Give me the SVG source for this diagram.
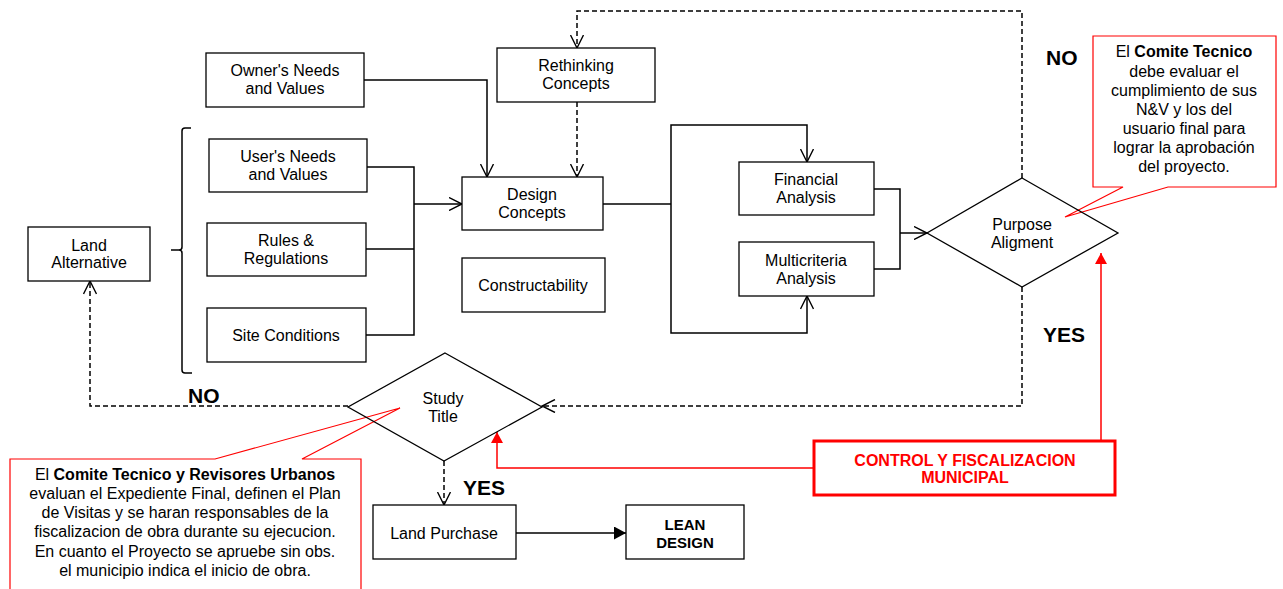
<svg xmlns="http://www.w3.org/2000/svg" width="1283" height="589" viewBox="0 0 1283 589">
  <defs>
    <marker id="open" markerUnits="userSpaceOnUse" viewBox="0 0 15 14" markerWidth="15" markerHeight="14" refX="13.5" refY="7" orient="auto">
      <path d="M0.5,0.5 L13.5,7 L0.5,13.5" fill="none" stroke="#000" stroke-width="1.4"/>
    </marker>
    <marker id="solid" markerUnits="userSpaceOnUse" viewBox="0 0 13 13" markerWidth="13" markerHeight="13" refX="12" refY="6.5" orient="auto">
      <path d="M0,0 L12,6.5 L0,13 Z" fill="#000"/>
    </marker>
    <marker id="redhead" markerUnits="userSpaceOnUse" viewBox="0 0 12 12" markerWidth="12" markerHeight="12" refX="11" refY="6" orient="auto">
      <path d="M0,0 L11,6 L0,12 Z" fill="#ff0000"/>
    </marker>
  </defs>
  <style>
    .box{fill:#fff;stroke:#000;stroke-width:1.3}
    .dia{fill:none;stroke:#000;stroke-width:1.3}
    .ln{fill:none;stroke:#000;stroke-width:1.5}
    .dash{stroke-dasharray:5 3}
    .rl{fill:none;stroke:#ff0000;stroke-width:1.5}
    .call{fill:#fff;stroke:#ff0000;stroke-width:1.2}
    .t{font-family:"Liberation Sans",Arial,sans-serif;font-size:16px;text-anchor:middle;fill:#000}
    .b{font-weight:bold}
    .lbl{font-family:"Liberation Sans",Arial,sans-serif;font-size:21px;font-weight:bold;fill:#000}
    .red{fill:#ff0000;font-weight:bold}
  </style>

  <rect width="1283" height="589" fill="#fff"/>

  <!-- connectors -->
  <g id="connectors">
    <!-- inputs into Design Concepts -->
    <path class="ln" d="M364,80 H487 V177" marker-end="url(#open)"/>
    <path class="ln" d="M367,167 H414 V335 H366"/>
    <path class="ln" d="M366,249 H414"/>
    <path class="ln" d="M414,204 H462" marker-end="url(#open)"/>
    <!-- Design Concepts to analyses -->
    <path class="ln" d="M603,204 H671"/>
    <path class="ln" d="M671,204 V125 H807 V162" marker-end="url(#open)"/>
    <path class="ln" d="M671,204 V333 H807 V296" marker-end="url(#open)"/>
    <!-- analyses to Purpose Aligment -->
    <path class="ln" d="M874,189 H900 V269 H874"/>
    <path class="ln" d="M900,233 H927" marker-end="url(#open)"/>
    <!-- feedback loops (dashed) -->
    <path class="ln dash" d="M1022,178 V11 H577 V48" marker-end="url(#open)"/>
    <path class="ln dash" d="M577,102 V177" marker-end="url(#open)"/>
    <path class="ln dash" d="M1022,287 V406 H542" marker-end="url(#open)"/>
    <path class="ln dash" d="M348,406 H90 V281" marker-end="url(#open)"/>
    <path class="ln dash" d="M444,461 V505" marker-end="url(#open)"/>
    <!-- Land Purchase to LEAN DESIGN -->
    <path class="ln" d="M516,533 H626" marker-end="url(#solid)"/>
    <!-- municipal control -->
    <path class="rl" d="M1101,440 V253" marker-end="url(#redhead)"/>
    <path class="rl" d="M813,468 H497 V432" marker-end="url(#redhead)"/>
    <!-- bracket grouping the site inputs -->
    <path class="ln" d="M191,128 H185 Q182,128 182,131 V247 Q182,250 179,250 H171 M179,250 Q182,250 182,253 V370 Q182,373 185,373 H192"/>
  </g>

  <!-- nodes -->
  <g id="owner-needs">
    <rect class="box" x="206" y="53" width="158" height="54"/>
    <text class="t" x="285" y="76">Owner's Needs</text>
    <text class="t" x="285" y="94">and Values</text>
  </g>
  <g id="user-needs">
    <rect class="box" x="209" y="139" width="158" height="53"/>
    <text class="t" x="288" y="162">User's Needs</text>
    <text class="t" x="288" y="180">and Values</text>
  </g>
  <g id="rules">
    <rect class="box" x="207" y="223" width="159" height="53"/>
    <text class="t" x="286" y="246">Rules &amp;</text>
    <text class="t" x="286" y="264">Regulations</text>
  </g>
  <g id="site-conditions">
    <rect class="box" x="207" y="308" width="159" height="54"/>
    <text class="t" x="286" y="341">Site Conditions</text>
  </g>
  <g id="land-alternative">
    <rect class="box" x="28" y="227" width="122" height="54"/>
    <text class="t" x="89" y="251">Land</text>
    <text class="t" x="89" y="268">Alternative</text>
  </g>
  <g id="rethinking-concepts">
    <rect class="box" x="497" y="48" width="158" height="54"/>
    <text class="t" x="576" y="71">Rethinking</text>
    <text class="t" x="576" y="89">Concepts</text>
  </g>
  <g id="design-concepts">
    <rect class="box" x="462" y="177" width="141" height="53"/>
    <text class="t" x="532" y="200">Design</text>
    <text class="t" x="532" y="218">Concepts</text>
  </g>
  <g id="constructability">
    <rect class="box" x="462" y="258" width="143" height="54"/>
    <text class="t" x="533" y="291">Constructability</text>
  </g>
  <g id="financial-analysis">
    <rect class="box" x="739" y="162" width="135" height="53"/>
    <text class="t" x="806" y="185">Financial</text>
    <text class="t" x="806" y="203">Analysis</text>
  </g>
  <g id="multicriteria-analysis">
    <rect class="box" x="739" y="242" width="135" height="54"/>
    <text class="t" x="806" y="266">Multicriteria</text>
    <text class="t" x="806" y="284">Analysis</text>
  </g>
  <g id="land-purchase">
    <rect class="box" x="373" y="505" width="143" height="54"/>
    <text class="t" x="444" y="539">Land Purchase</text>
  </g>
  <g id="lean-design">
    <rect class="box" x="626" y="505" width="118" height="54"/>
    <text class="t b" x="685" y="530" style="font-size:15px">LEAN</text>
    <text class="t b" x="685" y="548" style="font-size:15px">DESIGN</text>
  </g>
  <g id="control-municipal">
    <rect x="814" y="441" width="301" height="54" fill="#fff" stroke="#ff0000" stroke-width="3"/>
    <text class="t red" x="965" y="466">CONTROL Y FISCALIZACION</text>
    <text class="t red" x="965" y="483">MUNICIPAL</text>
  </g>

  <!-- callouts -->
  <g id="note-purpose">
    <path class="call" d="M1093,36 H1276 V187 H1168 L1065,217 L1123,187 H1093 Z"/>
    <text class="t" x="1184" y="57">El <tspan class="b">Comite Tecnico</tspan></text>
    <text class="t" x="1184" y="77">debe evaluar el</text>
    <text class="t" x="1184" y="96">cumplimiento de sus</text>
    <text class="t" x="1184" y="115">N&amp;V y los del</text>
    <text class="t" x="1184" y="134">usuario final para</text>
    <text class="t" x="1184" y="153">lograr la aprobación</text>
    <text class="t" x="1184" y="172">del proyecto.</text>
  </g>
  <g id="note-study">
    <path class="call" d="M10,459 H215 L400,408 L302,459 H361 V600 H10 Z"/>
    <text class="t" x="185" y="480">El <tspan class="b">Comite Tecnico y Revisores Urbanos</tspan></text>
    <text class="t" x="185" y="499">evaluan el Expediente Final, definen el Plan</text>
    <text class="t" x="185" y="518">de Visitas y se haran responsables de la</text>
    <text class="t" x="185" y="537">fiscalizacion de obra durante su ejecucion.</text>
    <text class="t" x="185" y="557">En cuanto el Proyecto se apruebe sin obs.</text>
    <text class="t" x="185" y="576">el municipio indica el inicio de obra.</text>
  </g>

  <!-- decisions -->
  <g id="purpose-aligment">
    <path class="dia" d="M1022,178 L1118,233 L1022,287 L927,233 Z"/>
    <text class="t" x="1022" y="230">Purpose</text>
    <text class="t" x="1022" y="248">Aligment</text>
  </g>
  <g id="study-title">
    <path class="dia" d="M445,353 L542,407 L444,461 L348,407 Z"/>
    <text class="t" x="443" y="404">Study</text>
    <text class="t" x="443" y="422">Title</text>
  </g>

  <!-- branch labels -->
  <g id="labels">
    <text class="lbl" x="1046" y="65">NO</text>
    <text class="lbl" x="1043" y="342">YES</text>
    <text class="lbl" x="188" y="403">NO</text>
    <text class="lbl" x="463" y="495">YES</text>
  </g>
</svg>
